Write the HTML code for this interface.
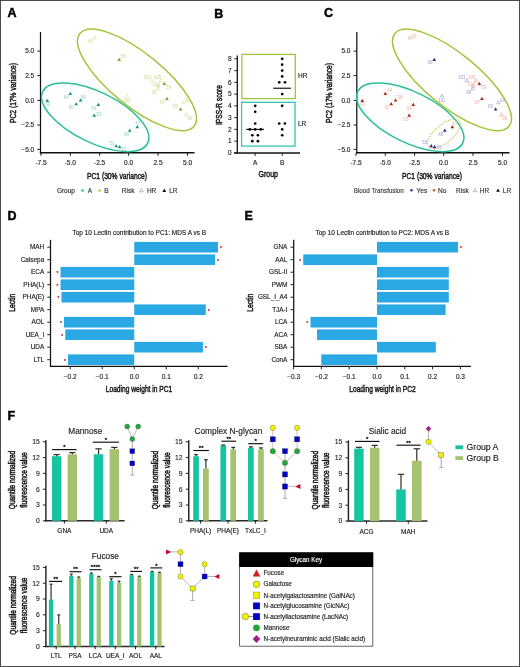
<!DOCTYPE html>
<html><head><meta charset="utf-8"><title>Figure</title>
<style>
html,body{margin:0;padding:0;background:#fff;}
body{width:520px;height:667px;overflow:hidden;position:relative;font-family:"Liberation Sans",sans-serif;}
#frame{position:absolute;left:0;top:0;width:520px;height:667px;box-sizing:border-box;border:1px solid #4a4a4a;}
svg{position:absolute;left:0;top:0;will-change:transform;}
svg text{font-family:"Liberation Sans",sans-serif;}
</style></head>
<body>
<svg width="520" height="667" viewBox="0 0 520 667">
<text x="7.60" y="17.10" font-size="12.5" text-anchor="start" fill="#000" stroke="#000" stroke-width="0.45" font-weight="bold">A</text>
<text x="214.30" y="17.50" font-size="12.5" text-anchor="start" fill="#000" stroke="#000" stroke-width="0.45" font-weight="bold">B</text>
<text x="324.00" y="17.10" font-size="12.5" text-anchor="start" fill="#000" stroke="#000" stroke-width="0.45" font-weight="bold">C</text>
<text x="7.40" y="220.30" font-size="12.5" text-anchor="start" fill="#000" stroke="#000" stroke-width="0.45" font-weight="bold">D</text>
<text x="244.60" y="220.30" font-size="12.5" text-anchor="start" fill="#000" stroke="#000" stroke-width="0.45" font-weight="bold">E</text>
<text x="7.40" y="419.70" font-size="12.5" text-anchor="start" fill="#000" stroke="#000" stroke-width="0.45" font-weight="bold">F</text>
<line x1="40.50" y1="32.00" x2="40.50" y2="153.55" stroke="#111" stroke-width="1.25"/>
<line x1="39.90" y1="152.85" x2="194.50" y2="152.85" stroke="#111" stroke-width="1.5"/>
<line x1="37.30" y1="51.10" x2="40.50" y2="51.10" stroke="#222" stroke-width="1"/>
<text x="34.20" y="53.34" font-size="6.5" text-anchor="end" fill="#1e1e1e" stroke="#1e1e1e" stroke-width="0.15">5.0</text>
<line x1="37.30" y1="75.60" x2="40.50" y2="75.60" stroke="#222" stroke-width="1"/>
<text x="34.20" y="77.84" font-size="6.5" text-anchor="end" fill="#1e1e1e" stroke="#1e1e1e" stroke-width="0.15">2.5</text>
<line x1="37.30" y1="100.40" x2="40.50" y2="100.40" stroke="#222" stroke-width="1"/>
<text x="34.20" y="102.64" font-size="6.5" text-anchor="end" fill="#1e1e1e" stroke="#1e1e1e" stroke-width="0.15">0.0</text>
<line x1="37.30" y1="125.00" x2="40.50" y2="125.00" stroke="#222" stroke-width="1"/>
<text x="34.20" y="127.24" font-size="6.5" text-anchor="end" fill="#1e1e1e" stroke="#1e1e1e" stroke-width="0.15">−2.5</text>
<line x1="37.30" y1="149.40" x2="40.50" y2="149.40" stroke="#222" stroke-width="1"/>
<text x="34.20" y="151.64" font-size="6.5" text-anchor="end" fill="#1e1e1e" stroke="#1e1e1e" stroke-width="0.15">−5.0</text>
<line x1="41.00" y1="152.85" x2="41.00" y2="155.85" stroke="#222" stroke-width="1"/>
<text x="41.00" y="164.74" font-size="6.5" text-anchor="middle" fill="#1e1e1e" stroke="#1e1e1e" stroke-width="0.15">-7.5</text>
<line x1="70.30" y1="152.85" x2="70.30" y2="155.85" stroke="#222" stroke-width="1"/>
<text x="70.30" y="164.74" font-size="6.5" text-anchor="middle" fill="#1e1e1e" stroke="#1e1e1e" stroke-width="0.15">-5.0</text>
<line x1="99.60" y1="152.85" x2="99.60" y2="155.85" stroke="#222" stroke-width="1"/>
<text x="99.60" y="164.74" font-size="6.5" text-anchor="middle" fill="#1e1e1e" stroke="#1e1e1e" stroke-width="0.15">-2.5</text>
<line x1="128.60" y1="152.85" x2="128.60" y2="155.85" stroke="#222" stroke-width="1"/>
<text x="128.60" y="164.74" font-size="6.5" text-anchor="middle" fill="#1e1e1e" stroke="#1e1e1e" stroke-width="0.15">0.0</text>
<line x1="158.00" y1="152.85" x2="158.00" y2="155.85" stroke="#222" stroke-width="1"/>
<text x="158.00" y="164.74" font-size="6.5" text-anchor="middle" fill="#1e1e1e" stroke="#1e1e1e" stroke-width="0.15">2.5</text>
<line x1="187.50" y1="152.85" x2="187.50" y2="155.85" stroke="#222" stroke-width="1"/>
<text x="187.50" y="164.74" font-size="6.5" text-anchor="middle" fill="#1e1e1e" stroke="#1e1e1e" stroke-width="0.15">5.0</text>
<text x="117.00" y="178.67" font-size="9.8" text-anchor="middle" fill="#1a1a1a" stroke="#1a1a1a" stroke-width="0.5" textLength="60" lengthAdjust="spacingAndGlyphs">PC1 (30% variance)</text>
<text x="12.50" y="96.37" font-size="9.8" text-anchor="middle" fill="#1a1a1a" stroke="#1a1a1a" stroke-width="0.5" textLength="60" lengthAdjust="spacingAndGlyphs" transform="rotate(-90 12.50 93.00)">PC2 (17% variance)</text>
<ellipse cx="95.20" cy="117.30" rx="58.50" ry="25.20" transform="rotate(26.2 95.20 117.30)" fill="none" stroke="#2abf98" stroke-width="1.5"/>
<ellipse cx="137.00" cy="79.90" rx="73.50" ry="26.40" transform="rotate(39.1 137.00 79.90)" fill="none" stroke="#a3c43c" stroke-width="1.5"/>
<polygon points="47.30,98.87 45.45,102.09 49.15,102.09" fill="#17977c"/>
<text x="47.80" y="106.35" font-size="4.5" text-anchor="middle" fill="#86d3c1">63</text>
<polygon points="70.30,91.67 68.45,94.89 72.15,94.89" fill="#17977c"/>
<text x="66.30" y="98.85" font-size="4.5" text-anchor="middle" fill="#86d3c1">64</text>
<polygon points="80.60,98.27 78.75,101.49 82.45,101.49" fill="#17977c"/>
<text x="83.20" y="98.65" font-size="4.5" text-anchor="middle" fill="#86d3c1">58</text>
<polygon points="76.20,101.97 74.35,105.19 78.05,105.19" fill="#17977c"/>
<text x="71.20" y="109.25" font-size="4.5" text-anchor="middle" fill="#86d3c1">60</text>
<polygon points="98.30,102.77 96.45,105.99 100.15,105.99" fill="#17977c"/>
<text x="93.70" y="110.25" font-size="4.5" text-anchor="middle" fill="#86d3c1">54</text>
<polygon points="94.20,113.57 92.35,116.79 96.05,116.79" fill="#17977c"/>
<text x="98.80" y="115.55" font-size="4.5" text-anchor="middle" fill="#86d3c1">53</text>
<polygon points="137.30,125.07 135.45,128.29 139.15,128.29" fill="#17977c"/>
<text x="137.80" y="124.55" font-size="4.5" text-anchor="middle" fill="#86d3c1">47</text>
<polygon points="129.80,128.57 127.95,131.79 131.65,131.79" fill="#17977c"/>
<text x="126.30" y="136.35" font-size="4.5" text-anchor="middle" fill="#86d3c1">48</text>
<polygon points="116.20,144.07 114.35,147.29 118.05,147.29" fill="#17977c"/>
<text x="112.00" y="144.55" font-size="4.5" text-anchor="middle" fill="#86d3c1">50</text>
<polygon points="119.60,145.07 117.75,148.29 121.45,148.29" fill="#17977c"/>
<text x="123.90" y="150.55" font-size="4.5" text-anchor="middle" fill="#86d3c1">51</text>
<polygon points="94.80,35.82 93.00,38.95 96.60,38.95" fill="none" stroke="#cdd886" stroke-width="0.5"/>
<text x="90.50" y="43.05" font-size="4.5" text-anchor="middle" fill="#cbd68e">60</text>
<polygon points="119.20,57.67 117.35,60.89 121.05,60.89" fill="#8a9a2a"/>
<text x="123.50" y="58.05" font-size="4.5" text-anchor="middle" fill="#cbd68e">56</text>
<polygon points="127.10,93.92 125.30,97.05 128.90,97.05" fill="none" stroke="#cdd886" stroke-width="0.5"/>
<text x="127.10" y="101.65" font-size="4.5" text-anchor="middle" fill="#cbd68e">101</text>
<polygon points="151.80,78.72 150.00,81.85 153.60,81.85" fill="none" stroke="#cdd886" stroke-width="0.5"/>
<text x="147.30" y="78.65" font-size="4.5" text-anchor="middle" fill="#cbd68e">103</text>
<polygon points="161.00,78.72 159.20,81.85 162.80,81.85" fill="none" stroke="#cdd886" stroke-width="0.5"/>
<text x="157.50" y="78.55" font-size="4.5" text-anchor="middle" fill="#cbd68e">105</text>
<polygon points="164.30,81.77 162.45,84.99 166.15,84.99" fill="#8a9a2a"/>
<text x="168.40" y="88.65" font-size="4.5" text-anchor="middle" fill="#cbd68e">59</text>
<polygon points="158.20,83.92 156.40,87.05 160.00,87.05" fill="none" stroke="#cdd886" stroke-width="0.5"/>
<text x="156.30" y="86.15" font-size="4.5" text-anchor="middle" fill="#cbd68e">102</text>
<polygon points="157.80,86.72 156.00,89.85 159.60,89.85" fill="none" stroke="#cdd886" stroke-width="0.5"/>
<text x="154.00" y="93.65" font-size="4.5" text-anchor="middle" fill="#cbd68e">98</text>
<polygon points="167.00,96.77 165.15,99.99 168.85,99.99" fill="#8a9a2a"/>
<text x="162.60" y="104.05" font-size="4.5" text-anchor="middle" fill="#cbd68e">97</text>
<polygon points="183.50,100.62 181.70,103.75 185.30,103.75" fill="none" stroke="#cdd886" stroke-width="0.5"/>
<text x="187.50" y="102.35" font-size="4.5" text-anchor="middle" fill="#cbd68e">99</text>
<polygon points="180.60,107.17 178.75,110.39 182.45,110.39" fill="#8a9a2a"/>
<text x="175.60" y="107.85" font-size="4.5" text-anchor="middle" fill="#cbd68e">89</text>
<polygon points="186.40,112.52 184.60,115.65 188.20,115.65" fill="none" stroke="#cdd886" stroke-width="0.5"/>
<text x="189.90" y="119.55" font-size="4.5" text-anchor="middle" fill="#cbd68e">90</text>
<text x="56.90" y="192.74" font-size="6.5" text-anchor="start" fill="#333" stroke="#333" stroke-width="0.15">Group</text>
<circle cx="82.6" cy="190.5" r="1.3" fill="#15c4a0"/>
<text x="87.70" y="192.74" font-size="6.5" text-anchor="start" fill="#333" stroke="#333" stroke-width="0.15">A</text>
<circle cx="99.5" cy="190.5" r="1.3" fill="#b8c840"/>
<text x="104.20" y="192.74" font-size="6.5" text-anchor="start" fill="#333" stroke="#333" stroke-width="0.15">B</text>
<text x="121.80" y="192.74" font-size="6.5" text-anchor="start" fill="#333" stroke="#333" stroke-width="0.15">Risk</text>
<polygon points="141.50,188.62 139.60,191.92 143.40,191.92" fill="none" stroke="#666" stroke-width="0.45"/>
<text x="146.90" y="192.74" font-size="6.5" text-anchor="start" fill="#333" stroke="#333" stroke-width="0.15">HR</text>
<polygon points="164.30,188.62 162.40,191.92 166.20,191.92" fill="#111"/>
<text x="169.20" y="192.74" font-size="6.5" text-anchor="start" fill="#333" stroke="#333" stroke-width="0.15">LR</text>
<line x1="356.80" y1="32.00" x2="356.80" y2="153.55" stroke="#111" stroke-width="1.25"/>
<line x1="356.20" y1="152.85" x2="509.50" y2="152.85" stroke="#111" stroke-width="1.5"/>
<line x1="353.60" y1="51.10" x2="356.80" y2="51.10" stroke="#222" stroke-width="1"/>
<text x="350.50" y="53.34" font-size="6.5" text-anchor="end" fill="#1e1e1e" stroke="#1e1e1e" stroke-width="0.15">5.0</text>
<line x1="353.60" y1="75.60" x2="356.80" y2="75.60" stroke="#222" stroke-width="1"/>
<text x="350.50" y="77.84" font-size="6.5" text-anchor="end" fill="#1e1e1e" stroke="#1e1e1e" stroke-width="0.15">2.5</text>
<line x1="353.60" y1="100.40" x2="356.80" y2="100.40" stroke="#222" stroke-width="1"/>
<text x="350.50" y="102.64" font-size="6.5" text-anchor="end" fill="#1e1e1e" stroke="#1e1e1e" stroke-width="0.15">0.0</text>
<line x1="353.60" y1="125.00" x2="356.80" y2="125.00" stroke="#222" stroke-width="1"/>
<text x="350.50" y="127.24" font-size="6.5" text-anchor="end" fill="#1e1e1e" stroke="#1e1e1e" stroke-width="0.15">−2.5</text>
<line x1="353.60" y1="149.40" x2="356.80" y2="149.40" stroke="#222" stroke-width="1"/>
<text x="350.50" y="151.64" font-size="6.5" text-anchor="end" fill="#1e1e1e" stroke="#1e1e1e" stroke-width="0.15">−5.0</text>
<line x1="356.00" y1="152.85" x2="356.00" y2="155.85" stroke="#222" stroke-width="1"/>
<text x="356.00" y="164.74" font-size="6.5" text-anchor="middle" fill="#1e1e1e" stroke="#1e1e1e" stroke-width="0.15">-7.5</text>
<line x1="385.30" y1="152.85" x2="385.30" y2="155.85" stroke="#222" stroke-width="1"/>
<text x="385.30" y="164.74" font-size="6.5" text-anchor="middle" fill="#1e1e1e" stroke="#1e1e1e" stroke-width="0.15">-5.0</text>
<line x1="414.60" y1="152.85" x2="414.60" y2="155.85" stroke="#222" stroke-width="1"/>
<text x="414.60" y="164.74" font-size="6.5" text-anchor="middle" fill="#1e1e1e" stroke="#1e1e1e" stroke-width="0.15">-2.5</text>
<line x1="443.60" y1="152.85" x2="443.60" y2="155.85" stroke="#222" stroke-width="1"/>
<text x="443.60" y="164.74" font-size="6.5" text-anchor="middle" fill="#1e1e1e" stroke="#1e1e1e" stroke-width="0.15">0.0</text>
<line x1="473.00" y1="152.85" x2="473.00" y2="155.85" stroke="#222" stroke-width="1"/>
<text x="473.00" y="164.74" font-size="6.5" text-anchor="middle" fill="#1e1e1e" stroke="#1e1e1e" stroke-width="0.15">2.5</text>
<line x1="502.50" y1="152.85" x2="502.50" y2="155.85" stroke="#222" stroke-width="1"/>
<text x="502.50" y="164.74" font-size="6.5" text-anchor="middle" fill="#1e1e1e" stroke="#1e1e1e" stroke-width="0.15">5.0</text>
<text x="432.00" y="178.67" font-size="9.8" text-anchor="middle" fill="#1a1a1a" stroke="#1a1a1a" stroke-width="0.5" textLength="60" lengthAdjust="spacingAndGlyphs">PC1 (30% variance)</text>
<text x="328.80" y="96.37" font-size="9.8" text-anchor="middle" fill="#1a1a1a" stroke="#1a1a1a" stroke-width="0.5" textLength="60" lengthAdjust="spacingAndGlyphs" transform="rotate(-90 328.80 93.00)">PC2 (17% variance)</text>
<ellipse cx="410.20" cy="117.30" rx="58.50" ry="25.20" transform="rotate(26.2 410.20 117.30)" fill="none" stroke="#2abf98" stroke-width="1.5"/>
<ellipse cx="452.00" cy="79.90" rx="73.50" ry="26.40" transform="rotate(39.1 452.00 79.90)" fill="none" stroke="#a3c43c" stroke-width="1.5"/>
<ellipse cx="443.90" cy="133.80" rx="20.20" ry="9.00" transform="rotate(-40 443.90 133.80)" fill="none" stroke="#c8c24a" stroke-width="1.1" stroke-dasharray="1.3 1.2"/>
<polygon points="362.30,98.87 360.45,102.09 364.15,102.09" fill="#a82a1a"/>
<text x="362.60" y="106.05" font-size="4.5" text-anchor="middle" fill="#eeb2a2">63</text>
<polygon points="385.30,91.67 383.45,94.89 387.15,94.89" fill="#a82a1a"/>
<text x="389.70" y="92.15" font-size="4.5" text-anchor="middle" fill="#eeb2a2">64</text>
<polygon points="395.60,98.27 393.75,101.49 397.45,101.49" fill="#a82a1a"/>
<text x="399.90" y="98.85" font-size="4.5" text-anchor="middle" fill="#eeb2a2">58</text>
<polygon points="391.20,101.97 389.35,105.19 393.05,105.19" fill="#a82a1a"/>
<text x="387.10" y="109.35" font-size="4.5" text-anchor="middle" fill="#eeb2a2">60</text>
<polygon points="413.30,102.77 411.45,105.99 415.15,105.99" fill="#a82a1a"/>
<text x="409.20" y="109.95" font-size="4.5" text-anchor="middle" fill="#eeb2a2">54</text>
<polygon points="409.20,113.57 407.35,116.79 411.05,116.79" fill="#a82a1a"/>
<text x="405.40" y="120.75" font-size="4.5" text-anchor="middle" fill="#eeb2a2">53</text>
<polygon points="452.30,125.07 450.45,128.29 454.15,128.29" fill="#a82a1a"/>
<text x="454.70" y="124.95" font-size="4.5" text-anchor="middle" fill="#eeb2a2">47</text>
<polygon points="444.80,128.57 442.95,131.79 446.65,131.79" fill="#2e2e80"/>
<text x="440.80" y="136.05" font-size="4.5" text-anchor="middle" fill="#a2a2d0">48</text>
<polygon points="431.20,144.07 429.35,147.29 433.05,147.29" fill="#2e2e80"/>
<text x="424.70" y="144.25" font-size="4.5" text-anchor="middle" fill="#a2a2d0">50</text>
<polygon points="434.60,145.07 432.75,148.29 436.45,148.29" fill="#2e2e80"/>
<text x="439.40" y="148.55" font-size="4.5" text-anchor="middle" fill="#a2a2d0">51</text>
<polygon points="409.80,35.82 408.00,38.95 411.60,38.95" fill="none" stroke="#e2937a" stroke-width="0.5"/>
<text x="414.00" y="37.55" font-size="4.5" text-anchor="middle" fill="#eeb2a2">60</text>
<polygon points="434.20,57.67 432.35,60.89 436.05,60.89" fill="#2e2e80"/>
<text x="430.00" y="64.25" font-size="4.5" text-anchor="middle" fill="#a2a2d0">56</text>
<polygon points="442.10,93.92 440.30,97.05 443.90,97.05" fill="none" stroke="#8484c2" stroke-width="0.5"/>
<text x="442.10" y="101.65" font-size="4.5" text-anchor="middle" fill="#a2a2d0">101</text>
<polygon points="466.80,78.72 465.00,81.85 468.60,81.85" fill="none" stroke="#8484c2" stroke-width="0.5"/>
<text x="461.80" y="78.65" font-size="4.5" text-anchor="middle" fill="#a2a2d0">103</text>
<polygon points="476.00,78.72 474.20,81.85 477.80,81.85" fill="none" stroke="#e2937a" stroke-width="0.5"/>
<text x="471.60" y="78.55" font-size="4.5" text-anchor="middle" fill="#eeb2a2">105</text>
<polygon points="479.30,81.77 477.45,84.99 481.15,84.99" fill="#a82a1a"/>
<text x="483.40" y="88.65" font-size="4.5" text-anchor="middle" fill="#eeb2a2">59</text>
<polygon points="473.20,83.92 471.40,87.05 475.00,87.05" fill="none" stroke="#e2937a" stroke-width="0.5"/>
<text x="471.30" y="86.15" font-size="4.5" text-anchor="middle" fill="#eeb2a2">102</text>
<polygon points="472.80,86.72 471.00,89.85 474.60,89.85" fill="none" stroke="#8484c2" stroke-width="0.5"/>
<text x="468.80" y="93.65" font-size="4.5" text-anchor="middle" fill="#a2a2d0">98</text>
<polygon points="482.00,96.77 480.15,99.99 483.85,99.99" fill="#a82a1a"/>
<text x="477.60" y="104.05" font-size="4.5" text-anchor="middle" fill="#eeb2a2">97</text>
<polygon points="498.50,100.62 496.70,103.75 500.30,103.75" fill="none" stroke="#8484c2" stroke-width="0.5"/>
<text x="502.50" y="102.35" font-size="4.5" text-anchor="middle" fill="#a2a2d0">99</text>
<polygon points="495.60,107.17 493.75,110.39 497.45,110.39" fill="#2e2e80"/>
<text x="490.40" y="107.85" font-size="4.5" text-anchor="middle" fill="#a2a2d0">89</text>
<polygon points="501.40,112.52 499.60,115.65 503.20,115.65" fill="none" stroke="#e2937a" stroke-width="0.5"/>
<text x="504.80" y="119.55" font-size="4.5" text-anchor="middle" fill="#eeb2a2">90</text>
<text x="353.80" y="192.50" font-size="6.4" text-anchor="start" fill="#333" stroke="#333" stroke-width="0.12" textLength="50" lengthAdjust="spacingAndGlyphs">Blood Transfusion</text>
<circle cx="411.5" cy="190.3" r="1.3" fill="#3a3a9a"/>
<text x="416.60" y="192.54" font-size="6.5" text-anchor="start" fill="#333" stroke="#333" stroke-width="0.15">Yes</text>
<circle cx="434.0" cy="190.3" r="1.3" fill="#e05a30"/>
<text x="438.00" y="192.54" font-size="6.5" text-anchor="start" fill="#333" stroke="#333" stroke-width="0.15">No</text>
<text x="456.00" y="192.54" font-size="6.5" text-anchor="start" fill="#333" stroke="#333" stroke-width="0.15">Risk</text>
<polygon points="475.00,188.42 473.10,191.72 476.90,191.72" fill="none" stroke="#666" stroke-width="0.45"/>
<text x="479.70" y="192.54" font-size="6.5" text-anchor="start" fill="#333" stroke="#333" stroke-width="0.15">HR</text>
<polygon points="498.00,188.42 496.10,191.72 499.90,191.72" fill="#111"/>
<text x="502.80" y="192.54" font-size="6.5" text-anchor="start" fill="#333" stroke="#333" stroke-width="0.15">LR</text>
<line x1="237.30" y1="55.50" x2="237.30" y2="153.60" stroke="#111" stroke-width="1.3"/>
<line x1="234.00" y1="152.90" x2="300.00" y2="152.90" stroke="#111" stroke-width="1.5"/>
<line x1="234.30" y1="152.90" x2="237.30" y2="152.90" stroke="#222" stroke-width="1"/>
<text x="231.70" y="155.14" font-size="6.5" text-anchor="end" fill="#1e1e1e" stroke="#1e1e1e" stroke-width="0.15">0</text>
<line x1="234.30" y1="141.14" x2="237.30" y2="141.14" stroke="#222" stroke-width="1"/>
<text x="231.70" y="143.38" font-size="6.5" text-anchor="end" fill="#1e1e1e" stroke="#1e1e1e" stroke-width="0.15">1</text>
<line x1="234.30" y1="129.38" x2="237.30" y2="129.38" stroke="#222" stroke-width="1"/>
<text x="231.70" y="131.62" font-size="6.5" text-anchor="end" fill="#1e1e1e" stroke="#1e1e1e" stroke-width="0.15">2</text>
<line x1="234.30" y1="117.62" x2="237.30" y2="117.62" stroke="#222" stroke-width="1"/>
<text x="231.70" y="119.86" font-size="6.5" text-anchor="end" fill="#1e1e1e" stroke="#1e1e1e" stroke-width="0.15">3</text>
<line x1="234.30" y1="105.86" x2="237.30" y2="105.86" stroke="#222" stroke-width="1"/>
<text x="231.70" y="108.10" font-size="6.5" text-anchor="end" fill="#1e1e1e" stroke="#1e1e1e" stroke-width="0.15">4</text>
<line x1="234.30" y1="94.10" x2="237.30" y2="94.10" stroke="#222" stroke-width="1"/>
<text x="231.70" y="96.34" font-size="6.5" text-anchor="end" fill="#1e1e1e" stroke="#1e1e1e" stroke-width="0.15">5</text>
<line x1="234.30" y1="82.34" x2="237.30" y2="82.34" stroke="#222" stroke-width="1"/>
<text x="231.70" y="84.58" font-size="6.5" text-anchor="end" fill="#1e1e1e" stroke="#1e1e1e" stroke-width="0.15">6</text>
<line x1="234.30" y1="70.58" x2="237.30" y2="70.58" stroke="#222" stroke-width="1"/>
<text x="231.70" y="72.82" font-size="6.5" text-anchor="end" fill="#1e1e1e" stroke="#1e1e1e" stroke-width="0.15">7</text>
<line x1="234.30" y1="58.82" x2="237.30" y2="58.82" stroke="#222" stroke-width="1"/>
<text x="231.70" y="61.06" font-size="6.5" text-anchor="end" fill="#1e1e1e" stroke="#1e1e1e" stroke-width="0.15">8</text>
<line x1="255.20" y1="152.90" x2="255.20" y2="155.90" stroke="#222" stroke-width="1"/>
<text x="255.20" y="164.84" font-size="6.5" text-anchor="middle" fill="#1e1e1e" stroke="#1e1e1e" stroke-width="0.15">A</text>
<line x1="282.20" y1="152.90" x2="282.20" y2="155.90" stroke="#222" stroke-width="1"/>
<text x="282.20" y="164.84" font-size="6.5" text-anchor="middle" fill="#1e1e1e" stroke="#1e1e1e" stroke-width="0.15">B</text>
<text x="268.20" y="177.47" font-size="9.8" text-anchor="middle" fill="#1a1a1a" stroke="#1a1a1a" stroke-width="0.5" textLength="19.5" lengthAdjust="spacingAndGlyphs">Group</text>
<text x="218.60" y="108.37" font-size="9.8" text-anchor="middle" fill="#1a1a1a" stroke="#1a1a1a" stroke-width="0.5" textLength="40" lengthAdjust="spacingAndGlyphs" transform="rotate(-90 218.60 105.00)">IPSS-R score</text>
<rect x="241.9" y="54.4" width="53.4" height="44.2" fill="none" stroke="#a3c43c" stroke-width="1.3"/>
<rect x="241.6" y="102.3" width="53.4" height="43.8" fill="none" stroke="#3ac4ac" stroke-width="1.3"/>
<text x="298.00" y="78.44" font-size="6.5" text-anchor="start" fill="#1e1e1e" stroke="#1e1e1e" stroke-width="0.15">HR</text>
<text x="298.00" y="126.44" font-size="6.5" text-anchor="start" fill="#1e1e1e" stroke="#1e1e1e" stroke-width="0.15">LR</text>
<circle cx="255.20" cy="105.86" r="1.35" fill="#000"/>
<circle cx="255.20" cy="111.74" r="1.35" fill="#000"/>
<circle cx="255.20" cy="123.50" r="1.35" fill="#000"/>
<circle cx="249.80" cy="129.38" r="1.35" fill="#000"/>
<circle cx="255.20" cy="129.38" r="1.35" fill="#000"/>
<circle cx="260.80" cy="129.38" r="1.35" fill="#000"/>
<circle cx="252.30" cy="135.26" r="1.35" fill="#000"/>
<circle cx="257.90" cy="135.26" r="1.35" fill="#000"/>
<circle cx="252.30" cy="141.14" r="1.35" fill="#000"/>
<circle cx="257.90" cy="141.14" r="1.35" fill="#000"/>
<circle cx="282.20" cy="58.82" r="1.35" fill="#000"/>
<circle cx="282.20" cy="64.70" r="1.35" fill="#000"/>
<circle cx="282.20" cy="70.58" r="1.35" fill="#000"/>
<circle cx="282.20" cy="76.46" r="1.35" fill="#000"/>
<circle cx="279.20" cy="82.34" r="1.35" fill="#000"/>
<circle cx="285.00" cy="82.34" r="1.35" fill="#000"/>
<circle cx="282.20" cy="94.10" r="1.35" fill="#000"/>
<circle cx="282.20" cy="105.86" r="1.35" fill="#000"/>
<circle cx="279.20" cy="123.50" r="1.35" fill="#000"/>
<circle cx="284.90" cy="123.50" r="1.35" fill="#000"/>
<circle cx="282.20" cy="129.38" r="1.35" fill="#000"/>
<circle cx="282.20" cy="135.26" r="1.35" fill="#000"/>
<line x1="246.30" y1="129.38" x2="264.00" y2="129.38" stroke="#000" stroke-width="1.1"/>
<line x1="273.20" y1="88.22" x2="290.90" y2="88.22" stroke="#000" stroke-width="1.1"/>
<line x1="50.50" y1="239.80" x2="50.50" y2="367.00" stroke="#111" stroke-width="1.25"/>
<line x1="49.90" y1="366.45" x2="227.50" y2="366.45" stroke="#111" stroke-width="1.2"/>
<line x1="47.30" y1="247.20" x2="50.50" y2="247.20" stroke="#222" stroke-width="1"/>
<text x="44.20" y="249.40" font-size="6.4" text-anchor="end" fill="#222" stroke="#222" stroke-width="0.15">MAH</text>
<rect x="134.25" y="241.90" width="83.74" height="10.60" fill="#29a8e4"/>
<text x="220.99" y="250.25" font-size="4.8" text-anchor="middle" fill="#b83a52" stroke="#b83a52" stroke-width="0.25">*</text>
<line x1="47.30" y1="259.70" x2="50.50" y2="259.70" stroke="#222" stroke-width="1"/>
<text x="44.20" y="261.90" font-size="6.4" text-anchor="end" fill="#222" stroke="#222" stroke-width="0.15">Calsepa</text>
<rect x="134.25" y="254.40" width="80.90" height="10.60" fill="#29a8e4"/>
<text x="218.15" y="262.75" font-size="4.8" text-anchor="middle" fill="#b83a52" stroke="#b83a52" stroke-width="0.25">*</text>
<line x1="47.30" y1="272.20" x2="50.50" y2="272.20" stroke="#222" stroke-width="1"/>
<text x="44.20" y="274.40" font-size="6.4" text-anchor="end" fill="#222" stroke="#222" stroke-width="0.15">ECA</text>
<rect x="60.55" y="266.90" width="73.70" height="10.60" fill="#29a8e4"/>
<text x="57.55" y="275.25" font-size="4.8" text-anchor="middle" fill="#b83a52" stroke="#b83a52" stroke-width="0.25">*</text>
<line x1="47.30" y1="284.70" x2="50.50" y2="284.70" stroke="#222" stroke-width="1"/>
<text x="44.20" y="286.90" font-size="6.4" text-anchor="end" fill="#222" stroke="#222" stroke-width="0.15">PHA(L)</text>
<rect x="60.55" y="279.40" width="73.70" height="10.60" fill="#29a8e4"/>
<text x="57.55" y="287.75" font-size="4.8" text-anchor="middle" fill="#b83a52" stroke="#b83a52" stroke-width="0.25">*</text>
<line x1="47.30" y1="297.20" x2="50.50" y2="297.20" stroke="#222" stroke-width="1"/>
<text x="44.20" y="299.40" font-size="6.4" text-anchor="end" fill="#222" stroke="#222" stroke-width="0.15">PHA(E)</text>
<rect x="61.45" y="291.90" width="72.80" height="10.60" fill="#29a8e4"/>
<text x="58.45" y="300.25" font-size="4.8" text-anchor="middle" fill="#b83a52" stroke="#b83a52" stroke-width="0.25">*</text>
<line x1="47.30" y1="309.70" x2="50.50" y2="309.70" stroke="#222" stroke-width="1"/>
<text x="44.20" y="311.90" font-size="6.4" text-anchor="end" fill="#222" stroke="#222" stroke-width="0.15">MPA</text>
<rect x="134.25" y="304.40" width="71.52" height="10.60" fill="#29a8e4"/>
<text x="208.77" y="312.75" font-size="4.8" text-anchor="middle" fill="#b83a52" stroke="#b83a52" stroke-width="0.25">*</text>
<line x1="47.30" y1="322.20" x2="50.50" y2="322.20" stroke="#222" stroke-width="1"/>
<text x="44.20" y="324.40" font-size="6.4" text-anchor="end" fill="#222" stroke="#222" stroke-width="0.15">AOL</text>
<rect x="64.01" y="316.90" width="70.24" height="10.60" fill="#29a8e4"/>
<text x="61.01" y="325.25" font-size="4.8" text-anchor="middle" fill="#b83a52" stroke="#b83a52" stroke-width="0.25">*</text>
<line x1="47.30" y1="334.70" x2="50.50" y2="334.70" stroke="#222" stroke-width="1"/>
<text x="44.20" y="336.90" font-size="6.4" text-anchor="end" fill="#222" stroke="#222" stroke-width="0.15">UEA_I</text>
<rect x="65.29" y="329.40" width="68.96" height="10.60" fill="#29a8e4"/>
<text x="62.29" y="337.75" font-size="4.8" text-anchor="middle" fill="#b83a52" stroke="#b83a52" stroke-width="0.25">*</text>
<line x1="47.30" y1="347.20" x2="50.50" y2="347.20" stroke="#222" stroke-width="1"/>
<text x="44.20" y="349.40" font-size="6.4" text-anchor="end" fill="#222" stroke="#222" stroke-width="0.15">UDA</text>
<rect x="134.25" y="341.90" width="68.64" height="10.60" fill="#29a8e4"/>
<text x="205.89" y="350.25" font-size="4.8" text-anchor="middle" fill="#b83a52" stroke="#b83a52" stroke-width="0.25">*</text>
<line x1="47.30" y1="359.70" x2="50.50" y2="359.70" stroke="#222" stroke-width="1"/>
<text x="44.20" y="361.90" font-size="6.4" text-anchor="end" fill="#222" stroke="#222" stroke-width="0.15">LTL</text>
<rect x="68.01" y="354.40" width="66.24" height="10.60" fill="#29a8e4"/>
<text x="65.01" y="362.75" font-size="4.8" text-anchor="middle" fill="#b83a52" stroke="#b83a52" stroke-width="0.25">*</text>
<line x1="70.25" y1="366.45" x2="70.25" y2="369.40" stroke="#222" stroke-width="1"/>
<text x="70.25" y="378.54" font-size="6.5" text-anchor="middle" fill="#1e1e1e" stroke="#1e1e1e" stroke-width="0.15">−0.2</text>
<line x1="102.25" y1="366.45" x2="102.25" y2="369.40" stroke="#222" stroke-width="1"/>
<text x="102.25" y="378.54" font-size="6.5" text-anchor="middle" fill="#1e1e1e" stroke="#1e1e1e" stroke-width="0.15">−0.1</text>
<line x1="134.25" y1="366.45" x2="134.25" y2="369.40" stroke="#222" stroke-width="1"/>
<text x="134.25" y="378.54" font-size="6.5" text-anchor="middle" fill="#1e1e1e" stroke="#1e1e1e" stroke-width="0.15">0.0</text>
<line x1="166.25" y1="366.45" x2="166.25" y2="369.40" stroke="#222" stroke-width="1"/>
<text x="166.25" y="378.54" font-size="6.5" text-anchor="middle" fill="#1e1e1e" stroke="#1e1e1e" stroke-width="0.15">0.1</text>
<line x1="198.25" y1="366.45" x2="198.25" y2="369.40" stroke="#222" stroke-width="1"/>
<text x="198.25" y="378.54" font-size="6.5" text-anchor="middle" fill="#1e1e1e" stroke="#1e1e1e" stroke-width="0.15">0.2</text>
<text x="139.30" y="234.84" font-size="6.5" text-anchor="middle" fill="#222" stroke="#222" stroke-width="0.15">Top 10 Lectin contribution to PC1: MDS A vs B</text>
<text x="139.00" y="391.50" font-size="9.6" text-anchor="middle" fill="#1a1a1a" stroke="#1a1a1a" stroke-width="0.5" textLength="66.5" lengthAdjust="spacingAndGlyphs">Loading weight in PC1</text>
<text x="11.80" y="306.07" font-size="9.8" text-anchor="middle" fill="#1a1a1a" stroke="#1a1a1a" stroke-width="0.5" textLength="18.2" lengthAdjust="spacingAndGlyphs" transform="rotate(-90 11.80 302.70)">Lectin</text>
<line x1="293.70" y1="239.80" x2="293.70" y2="367.00" stroke="#111" stroke-width="1.25"/>
<line x1="293.10" y1="366.45" x2="470.90" y2="366.45" stroke="#111" stroke-width="1.2"/>
<line x1="290.50" y1="247.20" x2="293.70" y2="247.20" stroke="#222" stroke-width="1"/>
<text x="287.40" y="249.40" font-size="6.4" text-anchor="end" fill="#222" stroke="#222" stroke-width="0.15">GNA</text>
<rect x="377.00" y="241.90" width="81.04" height="10.60" fill="#29a8e4"/>
<text x="461.04" y="250.25" font-size="4.8" text-anchor="middle" fill="#b83a52" stroke="#b83a52" stroke-width="0.25">*</text>
<line x1="290.50" y1="259.70" x2="293.70" y2="259.70" stroke="#222" stroke-width="1"/>
<text x="287.40" y="261.90" font-size="6.4" text-anchor="end" fill="#222" stroke="#222" stroke-width="0.15">AAL</text>
<rect x="303.25" y="254.40" width="73.75" height="10.60" fill="#29a8e4"/>
<text x="300.25" y="262.75" font-size="4.8" text-anchor="middle" fill="#b83a52" stroke="#b83a52" stroke-width="0.25">*</text>
<line x1="290.50" y1="272.20" x2="293.70" y2="272.20" stroke="#222" stroke-width="1"/>
<text x="287.40" y="274.40" font-size="6.4" text-anchor="end" fill="#222" stroke="#222" stroke-width="0.15">GSL-II</text>
<rect x="377.00" y="266.90" width="71.81" height="10.60" fill="#29a8e4"/>
<line x1="290.50" y1="284.70" x2="293.70" y2="284.70" stroke="#222" stroke-width="1"/>
<text x="287.40" y="286.90" font-size="6.4" text-anchor="end" fill="#222" stroke="#222" stroke-width="0.15">PWM</text>
<rect x="377.00" y="279.40" width="71.81" height="10.60" fill="#29a8e4"/>
<line x1="290.50" y1="297.20" x2="293.70" y2="297.20" stroke="#222" stroke-width="1"/>
<text x="287.40" y="299.40" font-size="6.4" text-anchor="end" fill="#222" stroke="#222" stroke-width="0.15">GSL_I_A4</text>
<rect x="377.00" y="291.90" width="71.81" height="10.60" fill="#29a8e4"/>
<line x1="290.50" y1="309.70" x2="293.70" y2="309.70" stroke="#222" stroke-width="1"/>
<text x="287.40" y="311.90" font-size="6.4" text-anchor="end" fill="#222" stroke="#222" stroke-width="0.15">TJA-I</text>
<rect x="377.00" y="304.40" width="68.61" height="10.60" fill="#29a8e4"/>
<line x1="290.50" y1="322.20" x2="293.70" y2="322.20" stroke="#222" stroke-width="1"/>
<text x="287.40" y="324.40" font-size="6.4" text-anchor="end" fill="#222" stroke="#222" stroke-width="0.15">LCA</text>
<rect x="310.50" y="316.90" width="66.50" height="10.60" fill="#29a8e4"/>
<text x="307.50" y="325.25" font-size="4.8" text-anchor="middle" fill="#b83a52" stroke="#b83a52" stroke-width="0.25">*</text>
<line x1="290.50" y1="334.70" x2="293.70" y2="334.70" stroke="#222" stroke-width="1"/>
<text x="287.40" y="336.90" font-size="6.4" text-anchor="end" fill="#222" stroke="#222" stroke-width="0.15">ACA</text>
<rect x="317.01" y="329.40" width="59.99" height="10.60" fill="#29a8e4"/>
<line x1="290.50" y1="347.20" x2="293.70" y2="347.20" stroke="#222" stroke-width="1"/>
<text x="287.40" y="349.40" font-size="6.4" text-anchor="end" fill="#222" stroke="#222" stroke-width="0.15">SBA</text>
<rect x="377.00" y="341.90" width="58.80" height="10.60" fill="#29a8e4"/>
<line x1="290.50" y1="359.70" x2="293.70" y2="359.70" stroke="#222" stroke-width="1"/>
<text x="287.40" y="361.90" font-size="6.4" text-anchor="end" fill="#222" stroke="#222" stroke-width="0.15">ConA</text>
<rect x="321.26" y="354.40" width="55.74" height="10.60" fill="#29a8e4"/>
<line x1="293.60" y1="366.45" x2="293.60" y2="369.40" stroke="#222" stroke-width="1"/>
<text x="293.60" y="378.54" font-size="6.5" text-anchor="middle" fill="#1e1e1e" stroke="#1e1e1e" stroke-width="0.15">−0.3</text>
<line x1="321.40" y1="366.45" x2="321.40" y2="369.40" stroke="#222" stroke-width="1"/>
<text x="321.40" y="378.54" font-size="6.5" text-anchor="middle" fill="#1e1e1e" stroke="#1e1e1e" stroke-width="0.15">−0.2</text>
<line x1="349.20" y1="366.45" x2="349.20" y2="369.40" stroke="#222" stroke-width="1"/>
<text x="349.20" y="378.54" font-size="6.5" text-anchor="middle" fill="#1e1e1e" stroke="#1e1e1e" stroke-width="0.15">−0.1</text>
<line x1="377.00" y1="366.45" x2="377.00" y2="369.40" stroke="#222" stroke-width="1"/>
<text x="377.00" y="378.54" font-size="6.5" text-anchor="middle" fill="#1e1e1e" stroke="#1e1e1e" stroke-width="0.15">0.0</text>
<line x1="404.80" y1="366.45" x2="404.80" y2="369.40" stroke="#222" stroke-width="1"/>
<text x="404.80" y="378.54" font-size="6.5" text-anchor="middle" fill="#1e1e1e" stroke="#1e1e1e" stroke-width="0.15">0.1</text>
<line x1="432.60" y1="366.45" x2="432.60" y2="369.40" stroke="#222" stroke-width="1"/>
<text x="432.60" y="378.54" font-size="6.5" text-anchor="middle" fill="#1e1e1e" stroke="#1e1e1e" stroke-width="0.15">0.2</text>
<line x1="460.40" y1="366.45" x2="460.40" y2="369.40" stroke="#222" stroke-width="1"/>
<text x="460.40" y="378.54" font-size="6.5" text-anchor="middle" fill="#1e1e1e" stroke="#1e1e1e" stroke-width="0.15">0.3</text>
<text x="382.30" y="234.84" font-size="6.5" text-anchor="middle" fill="#222" stroke="#222" stroke-width="0.15">Top 10 Lectin contribution to PC2: MDS A vs B</text>
<text x="382.50" y="391.50" font-size="9.6" text-anchor="middle" fill="#1a1a1a" stroke="#1a1a1a" stroke-width="0.5" textLength="66.5" lengthAdjust="spacingAndGlyphs">Loading weight in PC2</text>
<text x="249.20" y="306.07" font-size="9.8" text-anchor="middle" fill="#1a1a1a" stroke="#1a1a1a" stroke-width="0.5" textLength="18.2" lengthAdjust="spacingAndGlyphs" transform="rotate(-90 249.20 302.70)">Lectin</text>
<line x1="45.90" y1="440.20" x2="45.90" y2="521.50" stroke="#222" stroke-width="1.45"/>
<line x1="45.10" y1="520.80" x2="124.60" y2="520.80" stroke="#2a2a2a" stroke-width="1.5"/>
<line x1="42.90" y1="520.80" x2="45.90" y2="520.80" stroke="#222" stroke-width="1"/>
<text x="39.70" y="523.14" font-size="6.8" text-anchor="end" fill="#1e1e1e" stroke="#1e1e1e" stroke-width="0.12">0</text>
<line x1="42.90" y1="505.00" x2="45.90" y2="505.00" stroke="#222" stroke-width="1"/>
<text x="39.70" y="507.34" font-size="6.8" text-anchor="end" fill="#1e1e1e" stroke="#1e1e1e" stroke-width="0.12">3</text>
<line x1="42.90" y1="489.20" x2="45.90" y2="489.20" stroke="#222" stroke-width="1"/>
<text x="39.70" y="491.54" font-size="6.8" text-anchor="end" fill="#1e1e1e" stroke="#1e1e1e" stroke-width="0.12">6</text>
<line x1="42.90" y1="473.40" x2="45.90" y2="473.40" stroke="#222" stroke-width="1"/>
<text x="39.70" y="475.74" font-size="6.8" text-anchor="end" fill="#1e1e1e" stroke="#1e1e1e" stroke-width="0.12">9</text>
<line x1="42.90" y1="457.60" x2="45.90" y2="457.60" stroke="#222" stroke-width="1"/>
<text x="39.70" y="459.94" font-size="6.8" text-anchor="end" fill="#1e1e1e" stroke="#1e1e1e" stroke-width="0.12">12</text>
<line x1="42.90" y1="441.80" x2="45.90" y2="441.80" stroke="#222" stroke-width="1"/>
<text x="39.70" y="444.14" font-size="6.8" text-anchor="end" fill="#1e1e1e" stroke="#1e1e1e" stroke-width="0.12">15</text>
<line x1="64.40" y1="520.80" x2="64.40" y2="523.60" stroke="#222" stroke-width="1"/>
<text x="64.40" y="533.44" font-size="6.5" text-anchor="middle" fill="#222" stroke="#222" stroke-width="0.15">GNA</text>
<rect x="51.90" y="456.20" width="9.50" height="64.60" fill="#15c4a0"/>
<line x1="56.65" y1="456.20" x2="56.65" y2="454.60" stroke="#2e2e2e" stroke-width="1.2"/>
<line x1="53.52" y1="454.60" x2="59.78" y2="454.60" stroke="#2e2e2e" stroke-width="1.2"/>
<rect x="67.60" y="454.40" width="9.40" height="66.40" fill="#a5c270"/>
<line x1="72.30" y1="454.40" x2="72.30" y2="452.60" stroke="#2e2e2e" stroke-width="1.2"/>
<line x1="69.20" y1="452.60" x2="75.40" y2="452.60" stroke="#2e2e2e" stroke-width="1.2"/>
<line x1="52.00" y1="449.60" x2="76.60" y2="449.60" stroke="#111" stroke-width="1.15"/>
<text x="64.30" y="449.36" font-size="6.0" text-anchor="middle" fill="#222" stroke="#222" stroke-width="0.3">*</text>
<line x1="106.30" y1="520.80" x2="106.30" y2="523.60" stroke="#222" stroke-width="1"/>
<text x="106.30" y="533.44" font-size="6.5" text-anchor="middle" fill="#222" stroke="#222" stroke-width="0.15">UDA</text>
<rect x="93.80" y="454.30" width="9.50" height="66.50" fill="#15c4a0"/>
<line x1="98.55" y1="454.30" x2="98.55" y2="448.80" stroke="#2e2e2e" stroke-width="1.2"/>
<line x1="95.41" y1="448.80" x2="101.69" y2="448.80" stroke="#2e2e2e" stroke-width="1.2"/>
<rect x="109.60" y="449.20" width="9.50" height="71.60" fill="#a5c270"/>
<line x1="114.35" y1="449.20" x2="114.35" y2="447.40" stroke="#2e2e2e" stroke-width="1.2"/>
<line x1="111.21" y1="447.40" x2="117.48" y2="447.40" stroke="#2e2e2e" stroke-width="1.2"/>
<line x1="92.80" y1="442.20" x2="119.00" y2="442.20" stroke="#111" stroke-width="1.15"/>
<text x="105.90" y="441.96" font-size="6.0" text-anchor="middle" fill="#222" stroke="#222" stroke-width="0.3">*</text>
<text x="85.30" y="434.06" font-size="8.3" text-anchor="middle" fill="#222" stroke="#222" stroke-width="0.15">Mannose</text>
<text x="12.30" y="483.10" font-size="9.0" text-anchor="middle" fill="#1a1a1a" stroke="#1a1a1a" stroke-width="0.5" textLength="58.5" lengthAdjust="spacingAndGlyphs" transform="rotate(-90 12.30 480.00)">Quantile normalized</text>
<text x="23.60" y="483.10" font-size="9.0" text-anchor="middle" fill="#1a1a1a" stroke="#1a1a1a" stroke-width="0.5" textLength="55.5" lengthAdjust="spacingAndGlyphs" transform="rotate(-90 23.60 480.00)">fluorescence value</text>
<line x1="188.75" y1="440.20" x2="188.75" y2="521.50" stroke="#222" stroke-width="1.45"/>
<line x1="187.95" y1="520.80" x2="267.50" y2="520.80" stroke="#2a2a2a" stroke-width="1.5"/>
<line x1="185.75" y1="520.80" x2="188.75" y2="520.80" stroke="#222" stroke-width="1"/>
<text x="182.55" y="523.14" font-size="6.8" text-anchor="end" fill="#1e1e1e" stroke="#1e1e1e" stroke-width="0.12">0</text>
<line x1="185.75" y1="505.00" x2="188.75" y2="505.00" stroke="#222" stroke-width="1"/>
<text x="182.55" y="507.34" font-size="6.8" text-anchor="end" fill="#1e1e1e" stroke="#1e1e1e" stroke-width="0.12">3</text>
<line x1="185.75" y1="489.20" x2="188.75" y2="489.20" stroke="#222" stroke-width="1"/>
<text x="182.55" y="491.54" font-size="6.8" text-anchor="end" fill="#1e1e1e" stroke="#1e1e1e" stroke-width="0.12">6</text>
<line x1="185.75" y1="473.40" x2="188.75" y2="473.40" stroke="#222" stroke-width="1"/>
<text x="182.55" y="475.74" font-size="6.8" text-anchor="end" fill="#1e1e1e" stroke="#1e1e1e" stroke-width="0.12">9</text>
<line x1="185.75" y1="457.60" x2="188.75" y2="457.60" stroke="#222" stroke-width="1"/>
<text x="182.55" y="459.94" font-size="6.8" text-anchor="end" fill="#1e1e1e" stroke="#1e1e1e" stroke-width="0.12">12</text>
<line x1="185.75" y1="441.80" x2="188.75" y2="441.80" stroke="#222" stroke-width="1"/>
<text x="182.55" y="444.14" font-size="6.8" text-anchor="end" fill="#1e1e1e" stroke="#1e1e1e" stroke-width="0.12">15</text>
<line x1="200.60" y1="520.80" x2="200.60" y2="523.60" stroke="#222" stroke-width="1"/>
<text x="200.60" y="533.44" font-size="6.5" text-anchor="middle" fill="#222" stroke="#222" stroke-width="0.15">PHA(L)</text>
<rect x="193.20" y="456.30" width="5.70" height="64.50" fill="#15c4a0"/>
<line x1="196.05" y1="456.30" x2="196.05" y2="454.60" stroke="#2e2e2e" stroke-width="1.2"/>
<line x1="194.17" y1="454.60" x2="197.93" y2="454.60" stroke="#2e2e2e" stroke-width="1.2"/>
<rect x="203.00" y="468.50" width="5.80" height="52.30" fill="#a5c270"/>
<line x1="205.90" y1="468.50" x2="205.90" y2="459.70" stroke="#2e2e2e" stroke-width="1.2"/>
<line x1="203.99" y1="459.70" x2="207.81" y2="459.70" stroke="#2e2e2e" stroke-width="1.2"/>
<line x1="193.40" y1="450.50" x2="208.90" y2="450.50" stroke="#111" stroke-width="1.15"/>
<text x="201.15" y="450.26" font-size="6.0" text-anchor="middle" fill="#222" stroke="#222" stroke-width="0.3">**</text>
<line x1="228.00" y1="520.80" x2="228.00" y2="523.60" stroke="#222" stroke-width="1"/>
<text x="228.00" y="533.44" font-size="6.5" text-anchor="middle" fill="#222" stroke="#222" stroke-width="0.15">PHA(E)</text>
<rect x="220.40" y="445.40" width="5.70" height="75.40" fill="#15c4a0"/>
<line x1="223.25" y1="445.40" x2="223.25" y2="445.00" stroke="#2e2e2e" stroke-width="1.2"/>
<line x1="221.37" y1="445.00" x2="225.13" y2="445.00" stroke="#2e2e2e" stroke-width="1.2"/>
<rect x="230.40" y="449.20" width="5.70" height="71.60" fill="#a5c270"/>
<line x1="233.25" y1="449.20" x2="233.25" y2="447.40" stroke="#2e2e2e" stroke-width="1.2"/>
<line x1="231.37" y1="447.40" x2="235.13" y2="447.40" stroke="#2e2e2e" stroke-width="1.2"/>
<line x1="221.40" y1="441.20" x2="236.20" y2="441.20" stroke="#111" stroke-width="1.15"/>
<text x="228.80" y="440.96" font-size="6.0" text-anchor="middle" fill="#222" stroke="#222" stroke-width="0.3">**</text>
<line x1="255.40" y1="520.80" x2="255.40" y2="523.60" stroke="#222" stroke-width="1"/>
<text x="255.40" y="533.44" font-size="6.5" text-anchor="middle" fill="#222" stroke="#222" stroke-width="0.15">TxLC_I</text>
<rect x="248.00" y="447.70" width="5.70" height="73.10" fill="#15c4a0"/>
<line x1="250.85" y1="447.70" x2="250.85" y2="446.80" stroke="#2e2e2e" stroke-width="1.2"/>
<line x1="248.97" y1="446.80" x2="252.73" y2="446.80" stroke="#2e2e2e" stroke-width="1.2"/>
<rect x="258.10" y="449.20" width="5.70" height="71.60" fill="#a5c270"/>
<line x1="260.95" y1="449.20" x2="260.95" y2="447.90" stroke="#2e2e2e" stroke-width="1.2"/>
<line x1="259.07" y1="447.90" x2="262.83" y2="447.90" stroke="#2e2e2e" stroke-width="1.2"/>
<line x1="248.20" y1="443.70" x2="263.20" y2="443.70" stroke="#111" stroke-width="1.15"/>
<text x="255.70" y="443.46" font-size="6.0" text-anchor="middle" fill="#222" stroke="#222" stroke-width="0.3">*</text>
<text x="228.40" y="433.86" font-size="8.3" text-anchor="middle" fill="#222" stroke="#222" stroke-width="0.15">Complex N-glycan</text>
<text x="155.40" y="483.10" font-size="9.0" text-anchor="middle" fill="#1a1a1a" stroke="#1a1a1a" stroke-width="0.5" textLength="58.5" lengthAdjust="spacingAndGlyphs" transform="rotate(-90 155.40 480.00)">Quantile normalized</text>
<text x="167.00" y="483.10" font-size="9.0" text-anchor="middle" fill="#1a1a1a" stroke="#1a1a1a" stroke-width="0.5" textLength="55.5" lengthAdjust="spacingAndGlyphs" transform="rotate(-90 167.00 480.00)">fluorescence value</text>
<line x1="348.40" y1="440.40" x2="348.40" y2="521.70" stroke="#222" stroke-width="1.45"/>
<line x1="347.60" y1="521.00" x2="427.50" y2="521.00" stroke="#2a2a2a" stroke-width="1.5"/>
<line x1="345.40" y1="521.00" x2="348.40" y2="521.00" stroke="#222" stroke-width="1"/>
<text x="342.20" y="523.34" font-size="6.8" text-anchor="end" fill="#1e1e1e" stroke="#1e1e1e" stroke-width="0.12">0</text>
<line x1="345.40" y1="505.20" x2="348.40" y2="505.20" stroke="#222" stroke-width="1"/>
<text x="342.20" y="507.54" font-size="6.8" text-anchor="end" fill="#1e1e1e" stroke="#1e1e1e" stroke-width="0.12">3</text>
<line x1="345.40" y1="489.40" x2="348.40" y2="489.40" stroke="#222" stroke-width="1"/>
<text x="342.20" y="491.74" font-size="6.8" text-anchor="end" fill="#1e1e1e" stroke="#1e1e1e" stroke-width="0.12">6</text>
<line x1="345.40" y1="473.60" x2="348.40" y2="473.60" stroke="#222" stroke-width="1"/>
<text x="342.20" y="475.94" font-size="6.8" text-anchor="end" fill="#1e1e1e" stroke="#1e1e1e" stroke-width="0.12">9</text>
<line x1="345.40" y1="457.80" x2="348.40" y2="457.80" stroke="#222" stroke-width="1"/>
<text x="342.20" y="460.14" font-size="6.8" text-anchor="end" fill="#1e1e1e" stroke="#1e1e1e" stroke-width="0.12">12</text>
<line x1="345.40" y1="442.00" x2="348.40" y2="442.00" stroke="#222" stroke-width="1"/>
<text x="342.20" y="444.34" font-size="6.8" text-anchor="end" fill="#1e1e1e" stroke="#1e1e1e" stroke-width="0.12">15</text>
<line x1="366.50" y1="521.00" x2="366.50" y2="523.80" stroke="#222" stroke-width="1"/>
<text x="366.50" y="533.64" font-size="6.5" text-anchor="middle" fill="#222" stroke="#222" stroke-width="0.15">ACG</text>
<rect x="354.20" y="448.60" width="9.40" height="72.40" fill="#15c4a0"/>
<line x1="358.90" y1="448.60" x2="358.90" y2="447.30" stroke="#2e2e2e" stroke-width="1.2"/>
<line x1="355.80" y1="447.30" x2="362.00" y2="447.30" stroke="#2e2e2e" stroke-width="1.2"/>
<rect x="370.00" y="447.70" width="9.40" height="73.30" fill="#a5c270"/>
<line x1="374.70" y1="447.70" x2="374.70" y2="445.40" stroke="#2e2e2e" stroke-width="1.2"/>
<line x1="371.60" y1="445.40" x2="377.80" y2="445.40" stroke="#2e2e2e" stroke-width="1.2"/>
<line x1="355.00" y1="441.40" x2="379.50" y2="441.40" stroke="#111" stroke-width="1.15"/>
<text x="367.25" y="441.16" font-size="6.0" text-anchor="middle" fill="#222" stroke="#222" stroke-width="0.3">*</text>
<line x1="408.30" y1="521.00" x2="408.30" y2="523.80" stroke="#222" stroke-width="1"/>
<text x="408.30" y="533.64" font-size="6.5" text-anchor="middle" fill="#222" stroke="#222" stroke-width="0.15">MAH</text>
<rect x="396.20" y="489.40" width="9.60" height="31.60" fill="#15c4a0"/>
<line x1="401.00" y1="489.40" x2="401.00" y2="474.30" stroke="#2e2e2e" stroke-width="1.2"/>
<line x1="397.83" y1="474.30" x2="404.17" y2="474.30" stroke="#2e2e2e" stroke-width="1.2"/>
<rect x="412.00" y="460.80" width="9.60" height="60.20" fill="#a5c270"/>
<line x1="416.80" y1="460.80" x2="416.80" y2="448.80" stroke="#2e2e2e" stroke-width="1.2"/>
<line x1="413.63" y1="448.80" x2="419.97" y2="448.80" stroke="#2e2e2e" stroke-width="1.2"/>
<line x1="396.40" y1="445.20" x2="420.60" y2="445.20" stroke="#111" stroke-width="1.15"/>
<text x="408.50" y="444.96" font-size="6.0" text-anchor="middle" fill="#222" stroke="#222" stroke-width="0.3">**</text>
<text x="387.50" y="433.86" font-size="8.3" text-anchor="middle" fill="#222" stroke="#222" stroke-width="0.15">Sialic acid</text>
<text x="314.60" y="483.30" font-size="9.0" text-anchor="middle" fill="#1a1a1a" stroke="#1a1a1a" stroke-width="0.5" textLength="58.5" lengthAdjust="spacingAndGlyphs" transform="rotate(-90 314.60 480.20)">Quantile normalized</text>
<text x="326.20" y="483.30" font-size="9.0" text-anchor="middle" fill="#1a1a1a" stroke="#1a1a1a" stroke-width="0.5" textLength="55.5" lengthAdjust="spacingAndGlyphs" transform="rotate(-90 326.20 480.20)">fluorescence value</text>
<line x1="45.90" y1="565.80" x2="45.90" y2="647.20" stroke="#222" stroke-width="1.45"/>
<line x1="45.10" y1="646.50" x2="164.50" y2="646.50" stroke="#2a2a2a" stroke-width="1.5"/>
<line x1="42.90" y1="646.50" x2="45.90" y2="646.50" stroke="#222" stroke-width="1"/>
<text x="39.70" y="648.84" font-size="6.8" text-anchor="end" fill="#1e1e1e" stroke="#1e1e1e" stroke-width="0.12">0</text>
<line x1="42.90" y1="630.68" x2="45.90" y2="630.68" stroke="#222" stroke-width="1"/>
<text x="39.70" y="633.02" font-size="6.8" text-anchor="end" fill="#1e1e1e" stroke="#1e1e1e" stroke-width="0.12">3</text>
<line x1="42.90" y1="614.86" x2="45.90" y2="614.86" stroke="#222" stroke-width="1"/>
<text x="39.70" y="617.20" font-size="6.8" text-anchor="end" fill="#1e1e1e" stroke="#1e1e1e" stroke-width="0.12">6</text>
<line x1="42.90" y1="599.04" x2="45.90" y2="599.04" stroke="#222" stroke-width="1"/>
<text x="39.70" y="601.38" font-size="6.8" text-anchor="end" fill="#1e1e1e" stroke="#1e1e1e" stroke-width="0.12">9</text>
<line x1="42.90" y1="583.22" x2="45.90" y2="583.22" stroke="#222" stroke-width="1"/>
<text x="39.70" y="585.56" font-size="6.8" text-anchor="end" fill="#1e1e1e" stroke="#1e1e1e" stroke-width="0.12">12</text>
<line x1="42.90" y1="567.40" x2="45.90" y2="567.40" stroke="#222" stroke-width="1"/>
<text x="39.70" y="569.74" font-size="6.8" text-anchor="end" fill="#1e1e1e" stroke="#1e1e1e" stroke-width="0.12">15</text>
<line x1="56.20" y1="646.50" x2="56.20" y2="649.30" stroke="#222" stroke-width="1"/>
<text x="56.20" y="658.44" font-size="6.5" text-anchor="middle" fill="#222" stroke="#222" stroke-width="0.15">LTL</text>
<rect x="48.90" y="599.50" width="4.30" height="47.00" fill="#15c4a0"/>
<line x1="51.05" y1="599.50" x2="51.05" y2="584.20" stroke="#2e2e2e" stroke-width="1.2"/>
<line x1="49.63" y1="584.20" x2="52.47" y2="584.20" stroke="#2e2e2e" stroke-width="1.2"/>
<rect x="56.60" y="624.20" width="4.30" height="22.30" fill="#a5c270"/>
<line x1="58.75" y1="624.20" x2="58.75" y2="614.90" stroke="#2e2e2e" stroke-width="1.2"/>
<line x1="57.33" y1="614.90" x2="60.17" y2="614.90" stroke="#2e2e2e" stroke-width="1.2"/>
<line x1="49.20" y1="581.40" x2="62.30" y2="581.40" stroke="#111" stroke-width="1.15"/>
<text x="55.75" y="581.16" font-size="6.0" text-anchor="middle" fill="#222" stroke="#222" stroke-width="0.3">**</text>
<line x1="75.00" y1="646.50" x2="75.00" y2="649.30" stroke="#222" stroke-width="1"/>
<text x="75.00" y="658.44" font-size="6.5" text-anchor="middle" fill="#222" stroke="#222" stroke-width="0.15">PSA</text>
<rect x="69.20" y="575.80" width="4.30" height="70.70" fill="#15c4a0"/>
<line x1="71.35" y1="575.80" x2="71.35" y2="574.20" stroke="#2e2e2e" stroke-width="1.2"/>
<line x1="69.93" y1="574.20" x2="72.77" y2="574.20" stroke="#2e2e2e" stroke-width="1.2"/>
<rect x="76.60" y="578.00" width="4.30" height="68.50" fill="#a5c270"/>
<line x1="78.75" y1="578.00" x2="78.75" y2="577.00" stroke="#2e2e2e" stroke-width="1.2"/>
<line x1="77.33" y1="577.00" x2="80.17" y2="577.00" stroke="#2e2e2e" stroke-width="1.2"/>
<line x1="69.50" y1="571.70" x2="81.50" y2="571.70" stroke="#111" stroke-width="1.15"/>
<text x="75.50" y="571.46" font-size="6.0" text-anchor="middle" fill="#222" stroke="#222" stroke-width="0.3">**</text>
<line x1="95.20" y1="646.50" x2="95.20" y2="649.30" stroke="#222" stroke-width="1"/>
<text x="95.20" y="658.44" font-size="6.5" text-anchor="middle" fill="#222" stroke="#222" stroke-width="0.15">LCA</text>
<rect x="89.20" y="573.80" width="4.30" height="72.70" fill="#15c4a0"/>
<line x1="91.35" y1="573.80" x2="91.35" y2="573.00" stroke="#2e2e2e" stroke-width="1.2"/>
<line x1="89.93" y1="573.00" x2="92.77" y2="573.00" stroke="#2e2e2e" stroke-width="1.2"/>
<rect x="96.60" y="577.00" width="4.30" height="69.50" fill="#a5c270"/>
<line x1="98.75" y1="577.00" x2="98.75" y2="576.40" stroke="#2e2e2e" stroke-width="1.2"/>
<line x1="97.33" y1="576.40" x2="100.17" y2="576.40" stroke="#2e2e2e" stroke-width="1.2"/>
<line x1="89.50" y1="569.70" x2="101.50" y2="569.70" stroke="#111" stroke-width="1.15"/>
<text x="95.50" y="569.46" font-size="6.0" text-anchor="middle" fill="#222" stroke="#222" stroke-width="0.3">****</text>
<line x1="115.30" y1="646.50" x2="115.30" y2="649.30" stroke="#222" stroke-width="1"/>
<text x="115.30" y="658.44" font-size="6.5" text-anchor="middle" fill="#222" stroke="#222" stroke-width="0.15">UEA_I</text>
<rect x="109.20" y="580.80" width="4.30" height="65.70" fill="#15c4a0"/>
<line x1="111.35" y1="580.80" x2="111.35" y2="578.80" stroke="#2e2e2e" stroke-width="1.2"/>
<line x1="109.93" y1="578.80" x2="112.77" y2="578.80" stroke="#2e2e2e" stroke-width="1.2"/>
<rect x="116.90" y="583.00" width="4.30" height="63.50" fill="#a5c270"/>
<line x1="119.05" y1="583.00" x2="119.05" y2="581.20" stroke="#2e2e2e" stroke-width="1.2"/>
<line x1="117.63" y1="581.20" x2="120.47" y2="581.20" stroke="#2e2e2e" stroke-width="1.2"/>
<line x1="109.20" y1="576.70" x2="121.50" y2="576.70" stroke="#111" stroke-width="1.15"/>
<text x="115.35" y="576.46" font-size="6.0" text-anchor="middle" fill="#222" stroke="#222" stroke-width="0.3">*</text>
<line x1="135.50" y1="646.50" x2="135.50" y2="649.30" stroke="#222" stroke-width="1"/>
<text x="135.50" y="658.44" font-size="6.5" text-anchor="middle" fill="#222" stroke="#222" stroke-width="0.15">AOL</text>
<rect x="129.50" y="575.10" width="4.30" height="71.40" fill="#15c4a0"/>
<line x1="131.65" y1="575.10" x2="131.65" y2="574.40" stroke="#2e2e2e" stroke-width="1.2"/>
<line x1="130.23" y1="574.40" x2="133.07" y2="574.40" stroke="#2e2e2e" stroke-width="1.2"/>
<rect x="137.20" y="576.90" width="4.20" height="69.60" fill="#a5c270"/>
<line x1="139.30" y1="576.90" x2="139.30" y2="576.20" stroke="#2e2e2e" stroke-width="1.2"/>
<line x1="137.91" y1="576.20" x2="140.69" y2="576.20" stroke="#2e2e2e" stroke-width="1.2"/>
<line x1="130.30" y1="571.40" x2="142.00" y2="571.40" stroke="#111" stroke-width="1.15"/>
<text x="136.15" y="571.16" font-size="6.0" text-anchor="middle" fill="#222" stroke="#222" stroke-width="0.3">**</text>
<line x1="155.80" y1="646.50" x2="155.80" y2="649.30" stroke="#222" stroke-width="1"/>
<text x="155.80" y="658.44" font-size="6.5" text-anchor="middle" fill="#222" stroke="#222" stroke-width="0.15">AAL</text>
<rect x="150.00" y="572.00" width="4.30" height="74.50" fill="#15c4a0"/>
<line x1="152.15" y1="572.00" x2="152.15" y2="571.40" stroke="#2e2e2e" stroke-width="1.2"/>
<line x1="150.73" y1="571.40" x2="153.57" y2="571.40" stroke="#2e2e2e" stroke-width="1.2"/>
<rect x="157.40" y="572.80" width="4.20" height="73.70" fill="#a5c270"/>
<line x1="159.50" y1="572.80" x2="159.50" y2="572.20" stroke="#2e2e2e" stroke-width="1.2"/>
<line x1="158.11" y1="572.20" x2="160.89" y2="572.20" stroke="#2e2e2e" stroke-width="1.2"/>
<line x1="150.30" y1="567.90" x2="162.30" y2="567.90" stroke="#111" stroke-width="1.15"/>
<text x="156.30" y="567.66" font-size="6.0" text-anchor="middle" fill="#222" stroke="#222" stroke-width="0.3">*</text>
<text x="105.40" y="559.46" font-size="8.3" text-anchor="middle" fill="#222" stroke="#222" stroke-width="0.15">Fucose</text>
<text x="12.40" y="608.50" font-size="9.0" text-anchor="middle" fill="#1a1a1a" stroke="#1a1a1a" stroke-width="0.5" textLength="58.5" lengthAdjust="spacingAndGlyphs" transform="rotate(-90 12.40 605.40)">Quantile normalized</text>
<text x="23.90" y="608.50" font-size="9.0" text-anchor="middle" fill="#1a1a1a" stroke="#1a1a1a" stroke-width="0.5" textLength="55.5" lengthAdjust="spacingAndGlyphs" transform="rotate(-90 23.90 605.40)">fluorescence value</text>
<rect x="455.40" y="445.40" width="7.60" height="3.80" fill="#15c4a0"/>
<rect x="455.40" y="456.20" width="7.60" height="3.80" fill="#a5c270"/>
<text x="466.50" y="450.29" font-size="8.7" text-anchor="start" fill="#222" stroke="#222" stroke-width="0.15">Group A</text>
<text x="466.50" y="461.09" font-size="8.7" text-anchor="start" fill="#222" stroke="#222" stroke-width="0.15">Group B</text>
<polyline points="127.20,426.50 132.30,439.00 138.20,426.50" fill="none" stroke="#999" stroke-width="0.7"/>
<polyline points="132.30,439.00 132.30,475.00" fill="none" stroke="#888" stroke-width="0.7"/>
<polyline points="130.10,475.00 134.50,475.00" fill="none" stroke="#888" stroke-width="0.7"/>
<circle cx="127.20" cy="426.50" r="2.5" fill="#22a83a" stroke="#555" stroke-width="0.35"/>
<circle cx="138.20" cy="426.50" r="2.5" fill="#22a83a" stroke="#555" stroke-width="0.35"/>
<circle cx="132.30" cy="439.00" r="2.5" fill="#22a83a" stroke="#555" stroke-width="0.35"/>
<rect x="129.90" y="448.80" width="4.8" height="4.8" fill="#0000c8" stroke="#333" stroke-width="0.3"/>
<rect x="129.90" y="461.00" width="4.8" height="4.8" fill="#0000c8" stroke="#333" stroke-width="0.3"/>
<polyline points="272.80,427.80 272.80,451.20 285.00,462.90 297.10,451.20 297.10,427.80" fill="none" stroke="#c8a0a0" stroke-width="0.7"/>
<polyline points="285.00,451.20 285.00,498.40" fill="none" stroke="#888" stroke-width="0.7"/>
<polyline points="282.80,498.40 287.20,498.40" fill="none" stroke="#888" stroke-width="0.7"/>
<polyline points="285.00,486.50 297.80,486.50" fill="none" stroke="#c8a0a0" stroke-width="0.7"/>
<circle cx="272.80" cy="427.80" r="2.7" fill="#f0f000" stroke="#555" stroke-width="0.35"/>
<rect x="270.20" y="436.70" width="5.2" height="5.2" fill="#0000c8" stroke="#333" stroke-width="0.3"/>
<circle cx="272.80" cy="451.20" r="2.7" fill="#22a83a" stroke="#555" stroke-width="0.35"/>
<circle cx="297.10" cy="427.80" r="2.7" fill="#f0f000" stroke="#555" stroke-width="0.35"/>
<rect x="294.50" y="436.70" width="5.2" height="5.2" fill="#0000c8" stroke="#333" stroke-width="0.3"/>
<circle cx="297.10" cy="451.20" r="2.7" fill="#22a83a" stroke="#555" stroke-width="0.35"/>
<rect x="282.40" y="448.60" width="5.2" height="5.2" fill="#0000c8" stroke="#333" stroke-width="0.3"/>
<circle cx="285.00" cy="462.90" r="2.7" fill="#22a83a" stroke="#555" stroke-width="0.35"/>
<rect x="282.40" y="471.80" width="5.2" height="5.2" fill="#0000c8" stroke="#333" stroke-width="0.3"/>
<rect x="282.40" y="483.90" width="5.2" height="5.2" fill="#0000c8" stroke="#333" stroke-width="0.3"/>
<polygon points="295.20,486.50 300.40,483.90 300.40,489.10" fill="#c8001e"/>
<polyline points="428.50,428.80 428.50,441.80 441.20,455.10" fill="none" stroke="#999" stroke-width="0.7"/>
<polyline points="441.20,455.10 441.20,467.70" fill="none" stroke="#888" stroke-width="0.7"/>
<polyline points="439.00,467.70 443.40,467.70" fill="none" stroke="#888" stroke-width="0.7"/>
<polygon points="428.50,426.00 431.30,428.80 428.50,431.60 425.70,428.80" fill="#a0208c"/>
<circle cx="428.50" cy="441.80" r="2.7" fill="#f0f000" stroke="#555" stroke-width="0.35"/>
<rect x="438.60" y="452.50" width="5.2" height="5.2" fill="#f0f000" stroke="#333" stroke-width="0.3"/>
<polyline points="168.50,551.90 180.50,551.90 180.50,576.50 192.60,588.50 204.60,576.50 204.60,564.20" fill="none" stroke="#999" stroke-width="0.7"/>
<polyline points="204.60,576.50 216.90,576.50" fill="none" stroke="#999" stroke-width="0.7"/>
<polyline points="192.60,588.50 192.60,600.40" fill="none" stroke="#888" stroke-width="0.7"/>
<polyline points="190.40,600.40 194.80,600.40" fill="none" stroke="#888" stroke-width="0.7"/>
<polygon points="171.10,552.10 166.10,549.60 166.10,554.60" fill="#c8001e"/>
<circle cx="180.50" cy="552.20" r="2.6" fill="#f0f000" stroke="#555" stroke-width="0.35"/>
<rect x="178.00" y="561.70" width="5.0" height="5.0" fill="#0000c8" stroke="#333" stroke-width="0.3"/>
<circle cx="180.50" cy="576.50" r="2.6" fill="#f0f000" stroke="#555" stroke-width="0.35"/>
<rect x="190.10" y="586.00" width="5.0" height="5.0" fill="#f0f000" stroke="#333" stroke-width="0.3"/>
<rect x="202.10" y="574.00" width="5.0" height="5.0" fill="#0000c8" stroke="#333" stroke-width="0.3"/>
<circle cx="204.60" cy="564.20" r="2.6" fill="#f0f000" stroke="#555" stroke-width="0.35"/>
<polygon points="214.40,576.50 219.40,574.00 219.40,579.00" fill="#c8001e"/>
<rect x="239.6" y="552.8" width="133.2" height="93.4" fill="#fff" stroke="#444" stroke-width="0.8"/>
<rect x="239.20" y="552.40" width="134.00" height="14.60" fill="#000"/>
<text x="306.00" y="562.07" font-size="6.3" text-anchor="middle" fill="#fff" stroke="#fff" stroke-width="0.15">Glycan Key</text>
<text x="263.50" y="575.47" font-size="6.3" text-anchor="start" fill="#222" stroke="#222" stroke-width="0.15">Fucose</text>
<text x="263.50" y="586.47" font-size="6.3" text-anchor="start" fill="#222" stroke="#222" stroke-width="0.15">Galactose</text>
<text x="263.50" y="597.57" font-size="6.3" text-anchor="start" fill="#222" stroke="#222" stroke-width="0.15">N-acetylgalactosamine (GalNAc)</text>
<text x="263.50" y="608.07" font-size="6.3" text-anchor="start" fill="#222" stroke="#222" stroke-width="0.15">N-acetylglucosamine (GlcNAc)</text>
<text x="263.50" y="618.77" font-size="6.3" text-anchor="start" fill="#222" stroke="#222" stroke-width="0.15">N-acetyllactosamine (LacNAc)</text>
<text x="263.50" y="629.97" font-size="6.3" text-anchor="start" fill="#222" stroke="#222" stroke-width="0.15">Mannose</text>
<text x="263.50" y="641.17" font-size="6.3" text-anchor="start" fill="#222" stroke="#222" stroke-width="0.15">N-acetylneuraminic acid (Sialic acid)</text>
<polygon points="256.5,569.6 260.4,576.6 252.6,576.6" fill="#d0201e"/>
<circle cx="256.5" cy="584.3" r="3.4" fill="#f0f000" stroke="#555" stroke-width="0.4"/>
<rect x="253.1" y="592.0" width="6.8" height="6.8" fill="#f0f000" stroke="#555" stroke-width="0.3"/>
<rect x="253.1" y="602.5" width="6.8" height="6.8" fill="#0000c8"/>
<line x1="245.40" y1="616.60" x2="253.10" y2="616.60" stroke="#555" stroke-width="0.7"/>
<circle cx="245.4" cy="616.6" r="3.4" fill="#f0f000" stroke="#555" stroke-width="0.4"/>
<rect x="253.1" y="613.2" width="6.8" height="6.8" fill="#0000c8"/>
<circle cx="256.5" cy="627.8" r="3.4" fill="#22a83a"/>
<polygon points="256.5,635.0 260.3,639.0 256.5,643.0 252.7,639.0" fill="#a0208c"/>
</svg>
<div id="frame"></div>
</body></html>
